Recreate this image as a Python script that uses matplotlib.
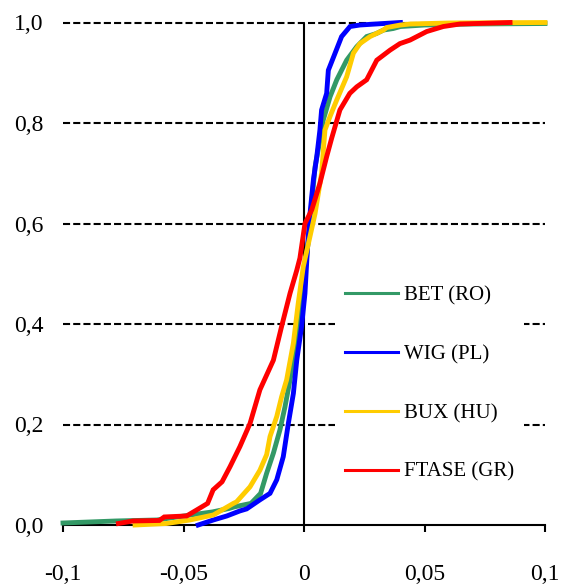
import matplotlib
matplotlib.use("Agg")
import matplotlib.pyplot as plt

plt.rcParams['font.family'] = ['Liberation Serif', 'DejaVu Serif']

labels = ["BET (RO)", "WIG (PL)", "BUX (HU)", "FTASE (GR)"]
colors = ["#339966", "#0000FF", "#FFCC00", "#FF0000"]

bet_x = [-0.100, -0.078, -0.061, -0.047, -0.038, -0.031, -0.029, -0.022, -0.018, -0.0155,
         -0.0127, -0.010, -0.0079, -0.0058, -0.003, -0.001, 0.0011, 0.0046, 0.0066, 0.008,
         0.0108, 0.0136, 0.0177, 0.0219, 0.026, 0.030, 0.033, 0.037, 0.040, 0.05, 0.07, 0.1]
bet_y = [0.004, 0.008, 0.010, 0.020, 0.026, 0.033, 0.036, 0.043, 0.063, 0.103,
         0.143, 0.189, 0.235, 0.289, 0.362, 0.448, 0.534, 0.713, 0.766, 0.806,
         0.852, 0.886, 0.925, 0.952, 0.972, 0.978, 0.985, 0.988, 0.992, 0.995, 0.997, 0.998]

wig_x = [-0.0439, -0.0376, -0.032, -0.0266, -0.0238, -0.0183, -0.0141, -0.0113, -0.0086,
         -0.0065, -0.0044, -0.003, -0.001, 0.0004, 0.0014, 0.0025, 0.0039, 0.0053, 0.0066,
         0.0073, 0.0094, 0.0101, 0.0129, 0.0156, 0.0191, 0.0232, 0.033, 0.040]
wig_y = [0.0, 0.010, 0.018, 0.028, 0.032, 0.050, 0.063, 0.090, 0.136,
         0.202, 0.262, 0.328, 0.395, 0.461, 0.547, 0.620, 0.687, 0.733, 0.786,
         0.826, 0.859, 0.905, 0.939, 0.972, 0.992, 0.995, 0.998, 1.0]

bux_x = [-0.0701, -0.057, -0.0473, -0.0376, -0.0293, -0.028, -0.0224, -0.0183, -0.0155,
         -0.0141, -0.0113, -0.0093, -0.0072, -0.0044, -0.0024, -0.0003, 0.0046, 0.0073,
         0.0087, 0.0108, 0.0136, 0.0177, 0.0205, 0.0232, 0.0274, 0.033, 0.0343, 0.040,
         0.044, 0.06, 0.1]
bux_y = [0.0, 0.003, 0.010, 0.020, 0.043, 0.046, 0.076, 0.109, 0.140,
         0.176, 0.216, 0.255, 0.289, 0.362, 0.441, 0.514, 0.620, 0.700,
         0.786, 0.813, 0.846, 0.892, 0.939, 0.958, 0.972, 0.985, 0.990, 0.995,
         0.997, 0.999, 1.0]

ftase_x = [-0.077, -0.071, -0.060, -0.058, -0.0487, -0.0445, -0.040, -0.0377, -0.034,
           -0.0307, -0.0266, -0.0224, -0.0183, -0.0127, -0.0093, -0.0058, -0.003, -0.0017,
           0.0004, 0.0032, 0.0066, 0.0094, 0.0115, 0.0149, 0.019, 0.0219, 0.026, 0.0302,
           0.0357, 0.0398, 0.044, 0.0509, 0.0578, 0.0647, 0.0855]
ftase_y = [0.003, 0.008, 0.009, 0.016, 0.018, 0.030, 0.043, 0.070, 0.086,
           0.116, 0.156, 0.202, 0.269, 0.328, 0.395, 0.461, 0.507, 0.531,
           0.600, 0.627, 0.680, 0.733, 0.770, 0.826, 0.859, 0.872, 0.886, 0.925,
           0.945, 0.958, 0.965, 0.982, 0.992, 0.997, 1.0]

xticks = [-0.1, -0.05, 0, 0.05, 0.1]
xticklabels = ["-0,1", "-0,05", "0", "0,05", "0,1"]
yticks = [0.0, 0.2, 0.4, 0.6, 0.8, 1.0]
yticklabels = ["0,0", "0,2", "0,4", "0,6", "0,8", "1,0"]

fig = plt.figure(figsize=(5.61, 5.85), dpi=100)
ax = fig.add_axes([63/561, 60/585, 482/561, 502.5/585])

ax.set_xlim(-0.1, 0.1)
ax.set_ylim(0, 1)

for yv in yticks[1:]:
    ax.axhline(yv, color="black", lw=1.5, dashes=(3.4, 1.5), zorder=1, clip_on=False)
ax.axvline(0, color="black", lw=1.5, zorder=1.5)

series = [(bet_x, bet_y), (wig_x, wig_y), (bux_x, bux_y), (ftase_x, ftase_y)]
for (xs, ys), lab, c in zip(series, labels, colors):
    ax.plot(xs, ys, color=c, lw=3.5, label=lab, zorder=3, clip_on=False,
            solid_joinstyle="miter")

for s in ["top", "right", "left"]:
    ax.spines[s].set_visible(False)
ax.spines["bottom"].set_linewidth(1.5)
ax.spines["bottom"].set_zorder(2)

ax.set_xticks(xticks)
ax.set_xticklabels(xticklabels)
ax.set_yticks(yticks)
ax.set_yticklabels(yticklabels)
ax.tick_params(axis="x", direction="out", length=5, width=1.5, pad=23, labelsize=17)
ax.tick_params(axis="y", length=0, pad=14, labelsize=17)

leg = ax.legend(loc="center left", bbox_to_anchor=((335-63)/482, (525-384)/502.5),
                frameon=True, fancybox=False, edgecolor="none", facecolor="white",
                framealpha=1.0, fontsize=15, handlelength=2.5, handletextpad=0.3,
                labelspacing=1.88, borderpad=0.5, borderaxespad=0.0)
for lh in leg.get_lines():
    lh.set_linewidth(2.2)
leg.set_zorder(2.5)

fig.savefig("out.png", dpi=100)
